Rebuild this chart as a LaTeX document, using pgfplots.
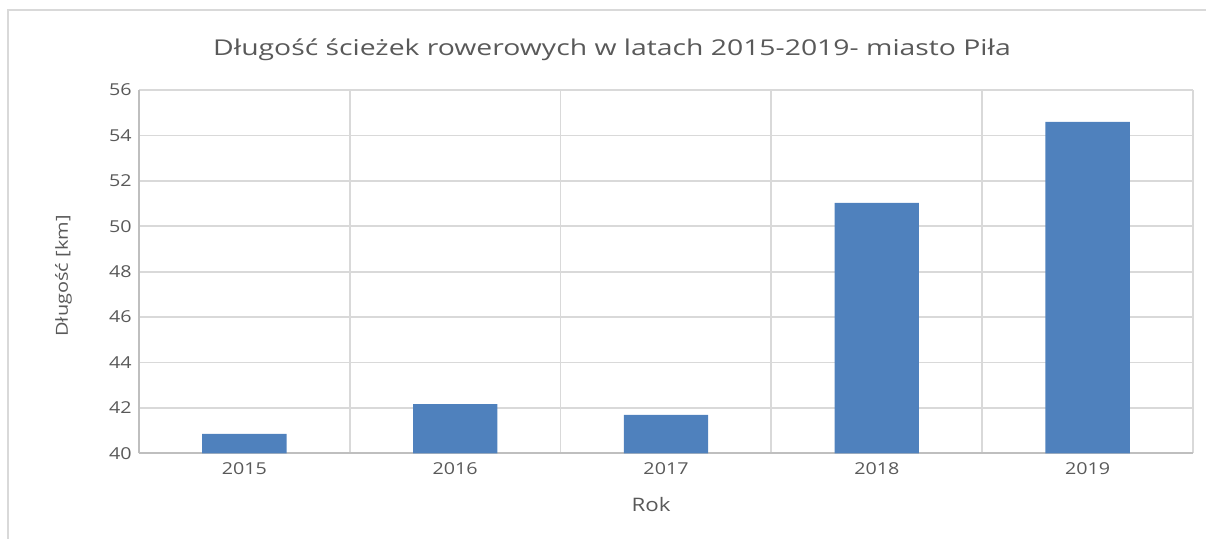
\documentclass[border=0pt]{standalone}
\usepackage{fontspec}
\setmainfont{Open Sans}
\newfontfamily\wide[FakeStretch=1.2]{Open Sans}
\newfontfamily\titlefont[FakeStretch=1.3]{Open Sans}
\usepackage{pgfplots}
\pgfplotsset{compat=1.18}
\definecolor{barblue}{HTML}{4F81BD}
\definecolor{gridgray}{HTML}{D9D9D9}
\definecolor{axisgray}{HTML}{BFBFBF}
\definecolor{txt}{HTML}{595959}
\begin{document}
\begin{tikzpicture}[x=1pt,y=1pt]
\useasboundingbox (0,0) rectangle (603,269.5);
\draw[gridgray, line width=0.6pt] (4,0) -- (4,264.5) -- (603,264.5);
\begin{axis}[
  at={(69.5pt,42.85pt)}, anchor=south west, scale only axis,
  width=527pt, height=181.65pt,
  ybar, bar width=0.4,
  xmin=-0.5, xmax=4.5, ymin=40, ymax=56,
  ytick={40,42,...,56},
  xtick={0,1,2,3,4}, xticklabels={2015,2016,2017,2018,2019},
  minor xtick={-0.5,0.5,1.5,2.5,3.5,4.5},
  xminorgrids, ymajorgrids,
  grid style={gridgray, line width=0.9pt},
  minor grid style={gridgray, line width=0.9pt},
  major tick length=0pt, minor tick length=0pt,
  axis x line*=bottom, axis y line*=left,
  axis line style={axisgray, line width=0.9pt, -},
  /pgf/number format/assume math mode=true,
  ticklabel style={font=\wide\fontsize{8.2}{10}\selectfont, text=txt},
  yticklabel style={anchor=east, inner sep=0pt, xshift=-3.5pt},
  xticklabel style={anchor=north, inner sep=0pt, yshift=-4.3pt},
]
\addplot[fill=barblue, draw=none] coordinates {(0,40.85) (1,42.17) (2,41.69) (3,51.03) (4,54.6)};
\end{axis}
\node[anchor=base, text=txt, font=\titlefont\fontsize{10.9}{12}\selectfont] at (306,241.65) {Długość ścieżek rowerowych w latach 2015-2019- miasto Piła};
\node[anchor=base, text=txt, font=\wide\fontsize{9.3}{11}\selectfont] at (325.5,13.7) {Rok};
\node[anchor=base, rotate=90, text=txt, font=\wide\fontsize{8.3}{10}\selectfont] at (34,131.5) {Długość [km]};
\end{tikzpicture}
\end{document}
